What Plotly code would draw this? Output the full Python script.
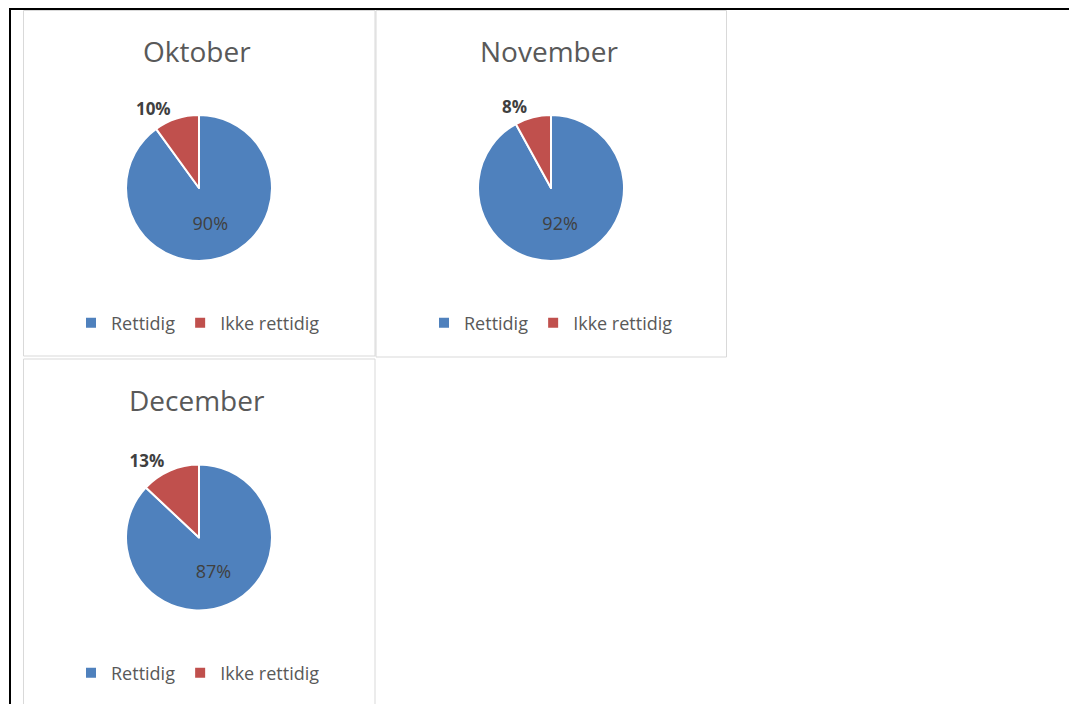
import plotly.graph_objects as go

OFF = 8  # page body margin in the browser
W, H = 1077 - OFF, 704 - OFF

months = ["Oktober", "November", "December"]
labels = ["Rettidig", "Ikke rettidig"]
rettidig = [90, 92, 87]
ikke_rettidig = [10, 8, 13]
colors = ["#4F81BD", "#C0504D"]

# layout geometry in screen pixels (position only)
centers = [(199, 188), (551, 188), (199, 537.5)]
radius = 73
title_y = [51, 51, 400]
legend_pos = [(198, 323), (551, 323), (198, 673)]
panels = [(23.5, 10.5, 375, 356), (376, 10.5, 726.5, 357), (23.5, 359, 375, 712)]


def px(x):
    return (x - OFF) / W


def py(y):
    return 1 - (y - OFF) / H


fig = go.Figure()
annotations = []
legend_defs = {}
for i, m in enumerate(months):
    cx, cy = centers[i]
    lname = "legend" if i == 0 else f"legend{i + 1}"
    fig.add_trace(go.Pie(
        labels=labels,
        values=[rettidig[i], ikke_rettidig[i]],
        sort=False,
        direction="clockwise",
        rotation=0,
        marker=dict(colors=colors, line=dict(color="white", width=2)),
        textinfo="percent",
        textposition=["inside", "outside"],
        insidetextorientation="horizontal",
        insidetextfont=dict(family="Open Sans", size=18, color="#404040"),
        outsidetextfont=dict(family="Open Sans", size=17, color="#404040", weight="bold"),
        domain=dict(x=[px(cx - radius), px(cx + radius)], y=[py(cy + radius), py(cy - radius)]),
        legend=lname,
        legendgroup=m,
        hoverinfo="label+percent",
        name=m,
    ))
    annotations.append(dict(
        text=m, x=px(cx - 2), y=py(title_y[i]), xref="paper", yref="paper",
        xanchor="center", yanchor="middle", showarrow=False,
        font=dict(family="Open Sans", size=28, color="#595959"),
    ))
    lx, ly = legend_pos[i]
    legend_defs[lname] = dict(
        orientation="h", x=px(lx), y=py(ly), xanchor="center", yanchor="middle",
        bgcolor="rgba(0,0,0,0)", font=dict(family="Open Sans", size=18, color="#595959"),
        traceorder="normal",
    )

shapes = []
for (x0, y0, x1, y1) in panels:
    shapes.append(dict(type="rect", xref="paper", yref="paper",
                       x0=px(x0), x1=px(x1), y0=py(y1), y1=py(y0),
                       line=dict(color="#D9D9D9", width=1), fillcolor="rgba(0,0,0,0)"))
shapes.append(dict(type="line", xref="paper", yref="paper", x0=px(9), x1=px(1074), y0=py(9), y1=py(9),
                   line=dict(color="black", width=2)))
shapes.append(dict(type="line", xref="paper", yref="paper", x0=px(10), x1=px(10), y0=py(8), y1=py(712),
                   line=dict(color="black", width=2)))

fig.update_layout(
    width=W, height=H,
    margin=dict(l=0, r=0, t=0, b=0),
    paper_bgcolor="white", plot_bgcolor="white",
    showlegend=True,
    annotations=annotations,
    shapes=shapes,
    **legend_defs,
)

fig.write_html("out.html")
